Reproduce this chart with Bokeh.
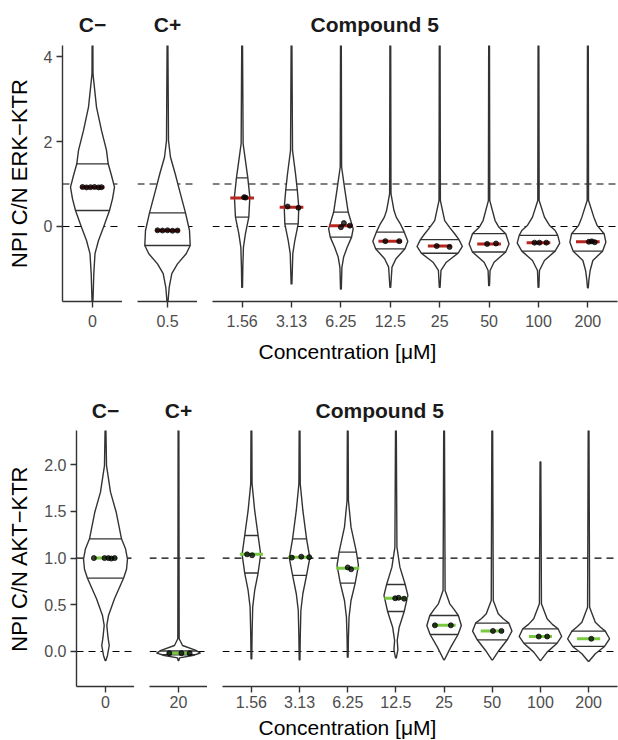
import numpy as np
from bokeh.plotting import figure
from bokeh.models import Range1d, FixedTicker, Span, Title, PrintfTickFormatter
from bokeh.layouts import row, column
from bokeh.embed import file_html
from bokeh.resources import INLINE

# ---------------- data ----------------
GROUPS = ["C\u2212", "C+", "Compound 5"]
GROUP_SIZES = [1, 1, 8]
REF_LINES = [0, 1]

ERK_CONC = ["0", "0.5", "1.56", "3.13", "6.25", "12.5", "25", "50", "100", "200"]
AKT_CONC = ["0", "20", "1.56", "3.13", "6.25", "12.5", "25", "50", "100", "200"]

# violin outlines: value levels and half-widths (in category units)
ERK_DENS_Y = [
    [4.30, 3.59, 2.81, 2.26, 1.79, 1.475, 1.20, 0.925, 0.65, 0.376, -0.016, -0.33, -0.64, -1.11, -1.58, -1.80],
    [4.30, 2.02, 1.63, 1.24, 0.85, 0.32, -0.094, -0.447, -0.64, -0.88, -1.11, -1.43, -1.80],
    [4.30, 1.95, 1.55, 1.145, 0.69, 0.22, -0.17, -0.49, -0.96, -1.43],
    [4.30, 1.79, 1.24, 0.86, 0.45, 0.06, -0.33, -0.64, -1.35],
    [4.30, 1.40, 0.85, 0.34, -0.055, -0.25, -0.49, -0.72, -0.96, -1.47],
    [4.30, 0.77, 0.376, 0.22, 0.063, -0.133, -0.345, -0.525, -0.76, -0.957, -1.43],
    [4.30, 0.61, 0.14, -0.02, -0.17, -0.31, -0.47, -0.63, -0.84, -1.035, -1.43],
    [4.30, 0.61, 0.14, -0.02, -0.17, -0.41, -0.60, -0.84, -1.035, -1.39],
    [4.30, 0.61, 0.22, 0.03, -0.094, -0.21, -0.39, -0.58, -0.80, -1.035, -1.43],
    [4.30, 0.61, 0.22, 0.02, -0.17, -0.37, -0.58, -0.80, -1.035, -1.27, -1.44],
]
ERK_DENS_W = [
    [0.008, 0.01, 0.08, 0.18, 0.28, 0.314, 0.38, 0.44, 0.40, 0.34, 0.22, 0.12, 0.05, 0.026, 0.014, 0.008],
    [0.008, 0.02, 0.06, 0.154, 0.24, 0.36, 0.44, 0.454, 0.374, 0.20, 0.086, 0.034, 0.008],
    [0.008, 0.02, 0.067, 0.115, 0.156, 0.135, 0.067, 0.026, 0.014, 0.008],
    [0.008, 0.02, 0.081, 0.117, 0.147, 0.135, 0.067, 0.026, 0.008],
    [0.008, 0.014, 0.081, 0.147, 0.248, 0.216, 0.127, 0.055, 0.02, 0.008],
    [0.008, 0.014, 0.075, 0.12, 0.202, 0.283, 0.354, 0.297, 0.115, 0.034, 0.008],
    [0.008, 0.014, 0.101, 0.2, 0.303, 0.39, 0.459, 0.37, 0.135, 0.026, 0.008],
    [0.008, 0.014, 0.121, 0.2, 0.337, 0.404, 0.337, 0.101, 0.02, 0.008],
    [0.008, 0.014, 0.121, 0.22, 0.337, 0.39, 0.43, 0.337, 0.121, 0.02, 0.008],
    [0.008, 0.014, 0.121, 0.19, 0.329, 0.364, 0.297, 0.101, 0.046, 0.02, 0.008],
]
ERK_Q25 = [0.376, -0.447, 0.22, 0.06, -0.25, -0.525, -0.63, -0.60, -0.58, -0.58]
ERK_Q75 = [1.475, 0.32, 1.145, 0.86, 0.34, -0.133, -0.31, -0.17, -0.21, -0.17]
ERK_MED = [0.925, -0.094, 0.67, 0.45, 0.02, -0.345, -0.46, -0.41, -0.38, -0.36]
ERK_REP = [[0.93, 0.92, 0.925, 0.93, 0.92, 0.925], [-0.09, -0.095, -0.09, -0.10, -0.095],
           [0.69, 0.68], [0.47, 0.44], [-0.016, 0.08, 0.02], [-0.345, -0.345],
           [-0.46, -0.48], [-0.41, -0.40], [-0.38, -0.38, -0.38], [-0.36, -0.35, -0.37]]
ERK_JIT = [[-0.2, -0.12, -0.04, 0.04, 0.12, 0.18], [-0.2, -0.1, 0.0, 0.1, 0.2],
           [0.04, 0.07], [-0.08, 0.14], [0.0, 0.06, 0.18], [-0.1, 0.18],
           [-0.06, 0.2], [-0.04, 0.14], [-0.08, 0.02, 0.16], [0.02, 0.08, 0.14]]

AKT_DENS_Y = [
    [2.40, 1.99, 1.706, 1.49, 1.206, 1.10, 0.99, 0.88, 0.785, 0.564, 0.385, 0.28, 0.15, 0.064, -0.043, -0.096],
    [2.40, 0.136, 0.064, 0.011, -0.018, -0.043, -0.068, -0.096],
    [2.40, 1.795, 1.51, 1.242, 1.04, 0.84, 0.653, 0.474, 0.19, -0.078],
    [2.40, 1.795, 1.51, 1.206, 1.003, 0.814, 0.618, 0.439, 0.153, -0.089],
    [2.40, 1.617, 1.331, 1.063, 0.921, 0.731, 0.546, 0.367, 0.153, -0.061],
    [2.40, 1.117, 0.903, 0.717, 0.60, 0.428, 0.26, 0.118, 0.02, -0.068],
    [2.40, 0.653, 0.51, 0.45, 0.385, 0.278, 0.182, 0.046, -0.089],
    [2.40, 0.546, 0.403, 0.35, 0.303, 0.218, 0.125, 0.011, -0.089],
    [2.03, 0.51, 0.35, 0.29, 0.243, 0.161, 0.089, -0.007, -0.096],
    [2.40, 0.474, 0.314, 0.26, 0.218, 0.136, 0.054, -0.025, -0.104],
]
AKT_DENS_W = [
    [0.008, 0.021, 0.104, 0.222, 0.331, 0.414, 0.455, 0.435, 0.373, 0.186, 0.062, 0.027, 0.052, 0.077, 0.041, 0.008],
    [0.008, 0.014, 0.083, 0.362, 0.449, 0.29, 0.021, 0.008],
    [0.008, 0.014, 0.068, 0.139, 0.193, 0.139, 0.068, 0.027, 0.014, 0.008],
    [0.008, 0.014, 0.068, 0.145, 0.213, 0.145, 0.068, 0.027, 0.014, 0.008],
    [0.008, 0.014, 0.068, 0.18, 0.222, 0.155, 0.068, 0.027, 0.014, 0.008],
    [0.008, 0.021, 0.083, 0.193, 0.248, 0.172, 0.068, 0.027, 0.041, 0.008],
    [0.008, 0.021, 0.118, 0.207, 0.296, 0.358, 0.29, 0.139, 0.008],
    [0.008, 0.021, 0.124, 0.228, 0.346, 0.408, 0.311, 0.139, 0.008],
    [0.008, 0.021, 0.139, 0.248, 0.366, 0.441, 0.346, 0.139, 0.008],
    [0.008, 0.021, 0.139, 0.248, 0.346, 0.435, 0.331, 0.139, 0.008],
]
AKT_Q25 = [0.785, -0.035, 0.84, 0.814, 0.731, 0.428, 0.182, 0.125, 0.089, 0.054]
AKT_Q75 = [1.206, 0.005, 1.242, 1.206, 1.063, 0.717, 0.385, 0.303, 0.243, 0.218]
AKT_MED = [1.0, -0.018, 1.04, 1.01, 0.89, 0.57, 0.28, 0.22, 0.16, 0.136]
AKT_REP = [[1.0, 1.0, 1.0, 0.995, 1.0], [-0.018, -0.018, -0.018], [1.04, 1.03],
           [1.005, 1.015, 1.01], [0.90, 0.88], [0.57, 0.575, 0.565], [0.28, 0.28],
           [0.22, 0.22], [0.16, 0.16], [0.136]]
AKT_JIT = [[-0.24, -0.02, 0.06, 0.12, 0.19], [-0.19, 0.06, 0.23], [-0.09, 0.015],
           [-0.16, 0.035, 0.2], [0.0, 0.07], [-0.015, 0.056, 0.17], [-0.19, 0.14],
           [0.015, 0.19], [-0.035, 0.14], [0.056]]

# ---------------- styling / layout ----------------
FONT = "Liberation Sans"
INK = "#333333"
XTITLE = "Concentration [\u03bcM]"
XTITLE_LEFT_PX = 258


def build_row(conc, dens_y, dens_w, q25, q75, med, rep, jit, accent, ylabel,
              ylim, yticks, yfmt, geo):
    figs = []
    start = 0
    left_px = 0
    for g, (name, n) in enumerate(zip(GROUPS, GROUP_SIZES)):
        idx = list(range(start, start + n))
        start += n
        first = g == 0
        p = figure(frame_width=geo["fw"][g], frame_height=geo["fh"],
                   x_range=Range1d(0.4, n + 0.6), y_range=Range1d(*ylim),
                   output_backend="svg", toolbar_location=None,
                   y_axis_location="left" if first else None,
                   min_border_left=geo["bl"][g], min_border_right=geo["br"][g],
                   min_border_top=geo["bt"], min_border_bottom=geo["bb"],
                   title=name)
        p.outline_line_color = None
        p.xgrid.visible = False
        p.ygrid.visible = False
        p.background_fill_color = "white"
        p.border_fill_color = "white"
        p.title.text_font = FONT
        p.title.text_font_size = "21px"
        p.title.text_font_style = "bold"
        p.title.text_color = "#1a1a1a"
        p.title.standoff = geo["tstand"]
        if n > 1:
            p.title.align = "left"
            p.title.offset = geo["toff"]
        else:
            p.title.align = "center"

        for h in REF_LINES:
            p.add_layout(Span(location=h, dimension="width", line_color="black",
                              line_width=1.2, line_dash="7 5", level="underlay"))

        xs, ys = [], []
        qx0, qx1, qy = [], [], []
        mx, my = [], []
        dx, dy = [], []
        for k, i in enumerate(idx):
            c = k + 1
            v = np.array(dens_y[i], dtype=float)
            w = np.array(dens_w[i], dtype=float)
            xs.append(list(c + w) + list(c - w[::-1]))
            ys.append(list(v) + list(v[::-1]))
            for q in (q25[i], q75[i]):
                hw = float(np.interp(q, v[::-1], w[::-1]))
                qx0.append(c - hw)
                qx1.append(c + hw)
                qy.append(q)
            mx.append(c)
            my.append(med[i])
            for r, j in zip(rep[i], jit[i]):
                dx.append(c + j)
                dy.append(r)
        p.patches(xs, ys, fill_color="white", line_color=INK, line_width=1.4,
                  line_join="round")
        p.segment(x0=qx0, x1=qx1, y0=qy, y1=qy, line_color=INK, line_width=1.3)
        p.segment(x0=[m - 0.24 for m in mx], x1=[m + 0.24 for m in mx], y0=my, y1=my,
                  line_color=accent, line_width=3)
        p.scatter(dx, dy, size=5, fill_color="black", line_color="black", alpha=0.75)

        xa = p.xaxis[0]
        xa.ticker = FixedTicker(ticks=list(range(1, n + 1)))
        xa.major_label_overrides = {k + 1: conc[i] for k, i in enumerate(idx)}
        xa.major_label_standoff = geo["xls"]
        axes = [xa]
        if first:
            ya = p.yaxis[0]
            ya.ticker = FixedTicker(ticks=yticks)
            if yfmt:
                ya.formatter = PrintfTickFormatter(format=yfmt)
            ya.axis_label = ylabel
            ya.axis_label_text_font = FONT
            ya.axis_label_text_font_size = "22px"
            ya.axis_label_text_font_style = "normal"
            ya.axis_label_text_color = "black"
            ya.axis_label_standoff = 9
            ya.major_label_standoff = 4
            axes.append(ya)
        for ax in axes:
            ax.axis_line_color = INK
            ax.axis_line_width = 1.4
            ax.major_tick_line_color = INK
            ax.major_tick_line_width = 1.4
            ax.major_tick_out = 6
            ax.major_tick_in = 0
            ax.minor_tick_line_color = None
            ax.major_label_text_font = FONT
            ax.major_label_text_font_size = "16px"
            ax.major_label_text_color = "#4D4D4D"

        if g == len(GROUPS) - 1:
            frame_left = left_px + geo["bl"][g]
            p.add_layout(Title(text=XTITLE, align="left",
                               offset=XTITLE_LEFT_PX - frame_left,
                               standoff=geo["xtstand"], text_font=FONT,
                               text_font_size="21px", text_font_style="normal",
                               text_color="black"), "below")
        left_px += geo["bl"][g] + geo["fw"][g] + geo["br"][g]
        figs.append(p)
    return row(*figs)


top = build_row(ERK_CONC, ERK_DENS_Y, ERK_DENS_W, ERK_Q25, ERK_Q75, ERK_MED,
                ERK_REP, ERK_JIT, "#B8271F", "NPI C/N ERK\u2212KTR",
                (-1.765, 4.259), [0, 2, 4], None,
                dict(fw=[60, 60, 405], bl=[62, 15, 15], br=[0, 0, 1], fh=256,
                     bt=45, bb=69, tstand=19, toff=98, xls=7, xtstand=16))
bottom = build_row(AKT_CONC, AKT_DENS_Y, AKT_DENS_W, AKT_Q25, AKT_Q75, AKT_MED,
                   AKT_REP, AKT_JIT, "#7AC943", "NPI C/N AKT\u2212KTR",
                   (-0.375, 2.366), [0, 0.5, 1, 1.5, 2], "%.1f",
                   dict(fw=[58, 58, 395], bl=[76, 15, 15], br=[0, 0, 1], fh=256,
                        bt=60, bb=54, tstand=17, toff=93, xls=3, xtstand=6))

layout = column(top, bottom)
open("out.html", "w").write(file_html(layout, INLINE))
